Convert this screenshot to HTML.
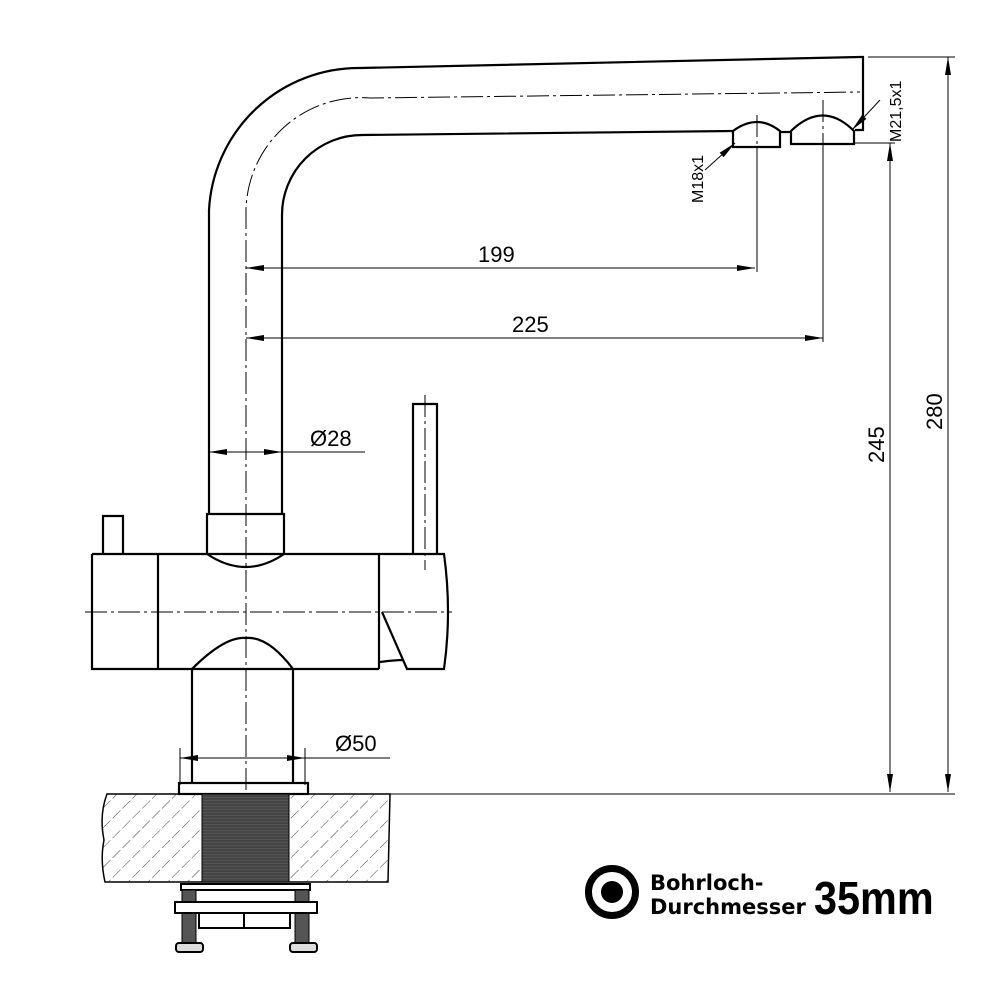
<!DOCTYPE html>
<html><head><meta charset="utf-8"><style>html,body{margin:0;padding:0;background:#fff}svg{display:block}</style></head>
<body>
<svg width="1000" height="1000" viewBox="0 0 1000 1000" xmlns="http://www.w3.org/2000/svg" font-family="Liberation Sans, Arial, sans-serif">
<defs>
<marker id="a" viewBox="0 0 10 10" refX="10" refY="5" markerWidth="18" markerHeight="6" preserveAspectRatio="none" markerUnits="userSpaceOnUse" orient="auto-start-reverse"><path d="M0,0 L10,5 L0,10z" fill="#000"/></marker>
<pattern id="h" width="14" height="14" patternUnits="userSpaceOnUse" patternTransform="rotate(45)">
<line x1="0" y1="0" x2="0" y2="14" stroke="#444" stroke-width="1" stroke-dasharray="9 3"/></pattern>
<pattern id="t" width="4" height="3" patternUnits="userSpaceOnUse"><rect width="4" height="3" fill="#555"/><line x1="0" y1="1" x2="4" y2="1" stroke="#333" stroke-width="1"/></pattern>
</defs>
<g fill="none" stroke="#000" stroke-width="2.2">
<path d="M209,514 L209,210 A150,150 0 0 1 360,68 L860,57 L863,57 L863,130 L855,130"/>
<path d="M282,514 L282,215 A80,80 0 0 1 362,135 L733,131"/>
<path d="M733,131 L733,147 L780,147 L780,131 Q757,113 733,131 Z"/>
<path d="M780,132 L791,132"/>
<path d="M791,131 L791,144 L854,144 L854,131 Q823,100 791,131 Z"/>
<path d="M207,554 L207,514 L284,514 L284,554"/>
<path d="M207,554 Q246,580 284,554"/>
<path d="M92,554 L379,554 M92,554 L92,669 L379,669 M158,554 L158,669 M379,554 L379,669"/>
<path d="M379,554 L444,554 Q452,612 444,669 L407,669 L382,612"/>
<path d="M380,662 Q395,660 403,660"/>
<path d="M103,554 L103,516 L123,516 L123,554"/>
<path d="M413,554 L413,404 L437,404 L437,554"/>
<path d="M192,783 L192,669 Q225,636 246,638 Q268,636 293,669 L293,783"/>
<rect x="179" y="783" width="129" height="11"/>
</g>
<path d="M107,794 L390,794 L388,882 L105,882 Q100,860 104,840 Q99,815 107,794Z" fill="url(#h)" stroke="#000" stroke-width="1.5"/>
<rect x="202" y="794" width="87" height="88" fill="url(#t)" stroke="#000" stroke-width="1"/>
<g fill="none" stroke="#000" stroke-width="2">
<rect x="181" y="884" width="129" height="6"/>
<rect x="199" y="913" width="91" height="15"/>
<line x1="244" y1="913" x2="244" y2="928"/>
</g>
<rect x="182" y="890" width="14" height="55" fill="#555" stroke="#000"/>
<rect x="295" y="890" width="14" height="55" fill="#555" stroke="#000"/>
<rect x="176" y="943" width="27" height="9" rx="3" fill="#ddd" stroke="#000" stroke-width="2"/>
<rect x="290" y="943" width="27" height="9" rx="3" fill="#ddd" stroke="#000" stroke-width="2"/>
<rect x="175" y="902" width="142" height="11" fill="#fff" stroke="#000" stroke-width="2"/>
<g stroke="#000" stroke-width="1" fill="none" stroke-dasharray="22 4 3 4">
<path d="M246,790 L246,210 A115,115 0 0 1 370,98 L860,92"/>
<line x1="85" y1="612" x2="452" y2="612"/>
<line x1="425" y1="395" x2="425" y2="570"/>
<line x1="757" y1="115" x2="757" y2="150"/>
<line x1="823" y1="100" x2="823" y2="150"/>
</g>
<g stroke="#000" stroke-width="1" fill="none">
<line x1="757" y1="150" x2="757" y2="272"/>
<line x1="823" y1="150" x2="823" y2="342"/>
<line x1="246" y1="268" x2="755" y2="268" marker-start="url(#a)" marker-end="url(#a)"/>
<line x1="246" y1="338" x2="823" y2="338" marker-start="url(#a)" marker-end="url(#a)"/>
<line x1="209" y1="452" x2="282" y2="452" marker-start="url(#a)" marker-end="url(#a)"/>
<line x1="282" y1="452" x2="365" y2="452"/>
<line x1="180" y1="748" x2="180" y2="785"/>
<line x1="305" y1="748" x2="305" y2="785"/>
<line x1="180" y1="758" x2="390" y2="758"/>
<line x1="390" y1="794" x2="955" y2="794"/>
<line x1="868" y1="57" x2="955" y2="57"/>
<line x1="855" y1="143" x2="895" y2="143"/>
<line x1="890" y1="143" x2="890" y2="792" marker-start="url(#a)" marker-end="url(#a)"/>
<line x1="948" y1="57" x2="948" y2="792" marker-start="url(#a)" marker-end="url(#a)"/>
<line x1="705" y1="170" x2="735" y2="143" marker-end="url(#a)"/>
<line x1="880" y1="100" x2="852" y2="130" marker-end="url(#a)"/>
</g>
<path d="M180,758 l18,-3 v6z M305,758 l-18,-3 v6z" fill="#000"/>
<g font-size="22" fill="#000">
<text x="478" y="262">199</text>
<text x="512" y="332">225</text>
<text x="310" y="446">Ø28</text>
<text x="335" y="751">Ø50</text>
<text transform="translate(884,463) rotate(-90)">245</text>
<text transform="translate(942,430) rotate(-90)">280</text>
<text font-size="16" transform="translate(703,203) rotate(-90)">M18x1</text>
<text font-size="16" transform="translate(901,142) rotate(-90)">M21,5x1</text>
</g>
<circle cx="612" cy="892" r="23.5" fill="none" stroke="#000" stroke-width="7"/>
<circle cx="612" cy="892" r="11" fill="#000"/>
<g fill="#000" font-family="DejaVu Sans, sans-serif" font-weight="bold" font-size="21">
<text x="650" y="890">Bohrloch-</text>
<text x="650" y="914">Durchmesser</text>
</g>
<text x="0" y="0" font-size="46" font-weight="bold" fill="#000" transform="translate(814,914) scale(0.9,1)">35mm</text>
</svg>
</body></html>
